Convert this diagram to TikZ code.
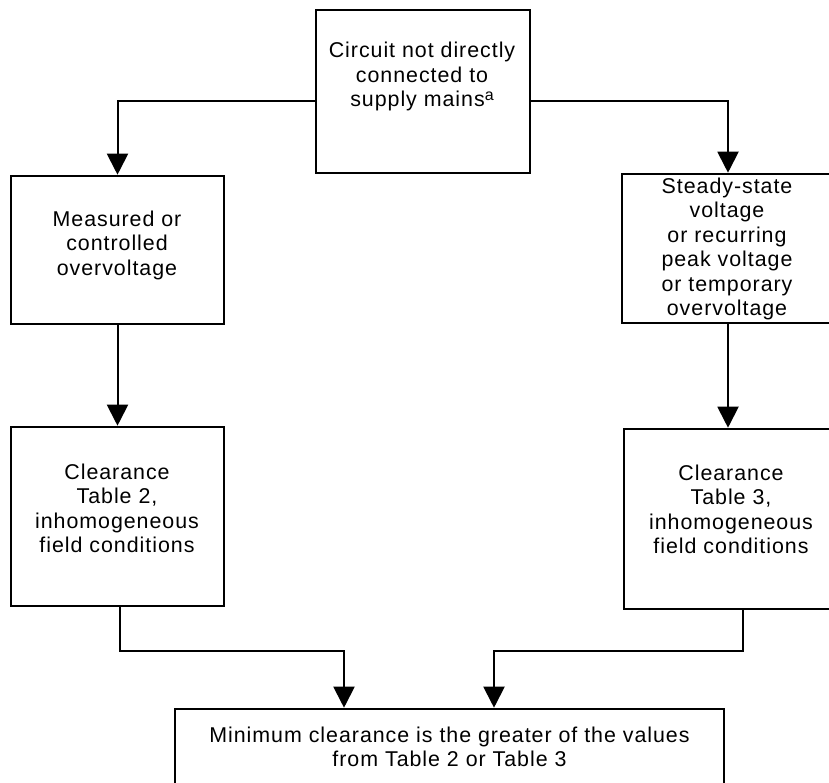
\documentclass[tikz,border=0pt]{standalone}
\usepackage{fontspec}
\setmainfont{Liberation Sans}[LetterSpace=4.5]
\usetikzlibrary{arrows.meta}
\tikzset{
  boxnode/.style={draw=black, line width=2.6pt, rectangle, inner sep=0pt, fill=white},
  txt/.style={align=center, inner sep=0pt, font=\fontsize{21.4}{24.5}\selectfont},
  conn/.style={draw=black, line width=2pt, -{Triangle[width=21pt,length=21pt]}}
}
\begin{document}
\begin{tikzpicture}[x=1pt,y=-1pt]
\clip (0,0) rectangle (829,782);
\fill[white] (0,0) rectangle (829,782);
% boxes
\node[boxnode, minimum width=214pt, minimum height=163pt] (top) at (423,91.5) {};
\node[boxnode, minimum width=213pt, minimum height=148pt] (L1) at (117.5,250) {};
\node[boxnode, minimum width=212pt, minimum height=149pt] (R1) at (728,248.5) {};
\node[boxnode, minimum width=213pt, minimum height=179pt] (L2) at (117.5,516.5) {};
\node[boxnode, minimum width=210pt, minimum height=180pt] (R2) at (729,519) {};
\node[boxnode, minimum width=549pt, minimum height=91pt] (B) at (449.5,754.5) {};
% texts
\node[txt] (ttop) at (422,76.5) {Circuit not directly\\connected to\\supply mains\raisebox{6pt}{\fontsize{16}{16}\selectfont a}};
\node[txt] (tL1) at (117,245) {Measured or\\controlled\\overvoltage};
\node[txt] (tR1) at (727,249) {Steady-state\\voltage\\or recurring\\peak voltage\\or temporary\\overvoltage};
\node[txt] (tL2) at (117,508.5) {Clearance\\Table 2,\\inhomogeneous\\field conditions};
\node[txt] (tR2) at (731,509.5) {Clearance\\Table 3,\\inhomogeneous\\field conditions};
\node[txt] (tB) at (449.5,747) {Minimum clearance is the greater of the values\\from Table 2 or Table 3};
% connectors
\draw[conn] ([yshift=-9.5pt]top.west) -| (L1.north);
\draw[conn] ([yshift=-9.5pt]top.east) -| (R1.north);
\draw[conn] (L1.south) -- (L2.north);
\draw[conn] (R1.south) -- (R1.south |- R2.north);
\draw[conn] ([xshift=2pt]L2.south) -- ++(0,44) -| ([xshift=-105.5pt]B.north);
\draw[conn] ([xshift=14pt]R2.south) -- ++(0,41) -| ([xshift=44.5pt]B.north);
\end{tikzpicture}
\end{document}
